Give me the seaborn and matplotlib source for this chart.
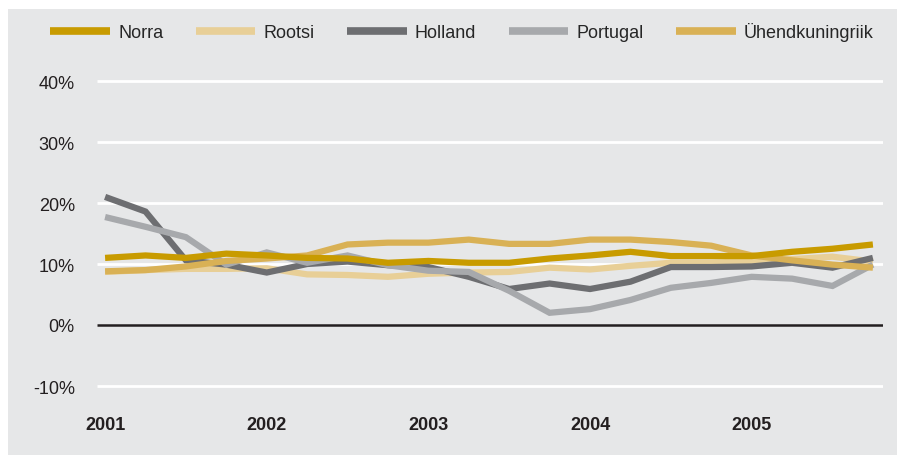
import matplotlib
matplotlib.use('Agg')
import matplotlib.pyplot as plt
from matplotlib.patches import Rectangle
from matplotlib.lines import Line2D
import seaborn as sns
import pandas as pd

quarters = list(range(20))
year_ticks = [0, 4, 8, 12, 16]
year_labels = ['2001', '2002', '2003', '2004', '2005']

norra = [11.0, 11.4, 11.0, 11.7, 11.4, 11.0, 10.9, 10.2, 10.5, 10.2,
         10.2, 10.9, 11.4, 12.0, 11.3, 11.3, 11.3, 12.0, 12.5, 13.2]
rootsi = [8.7, 9.0, 9.2, 9.2, 9.3, 8.3, 8.2, 7.9, 8.4, 8.6,
          8.7, 9.4, 9.1, 9.7, 10.2, 10.2, 10.5, 10.8, 11.2, 10.4]
holland = [21.0, 18.6, 10.6, 9.9, 8.6, 10.0, 10.4, 9.8, 9.5, 7.9,
           5.9, 6.8, 5.9, 7.1, 9.5, 9.5, 9.6, 10.2, 9.4, 11.0]
portugal = [17.7, 16.1, 14.4, 9.9, 11.9, 10.2, 11.4, 9.8, 8.9, 8.7,
            5.6, 2.0, 2.6, 4.1, 6.1, 6.9, 7.9, 7.6, 6.4, 9.9]
uk = [8.8, 9.0, 9.6, 10.5, 10.9, 11.4, 13.2, 13.5, 13.5, 14.0,
      13.3, 13.3, 14.0, 14.0, 13.6, 13.0, 11.4, 10.6, 9.9, 9.4]

names = ['Norra', 'Rootsi', 'Holland', 'Portugal', 'Ühendkuningriik']
series = [norra, rootsi, holland, portugal, uk]
colors = {'Norra': '#c89b00', 'Rootsi': '#e8cf97', 'Holland': '#6d6e71',
          'Portugal': '#a7a9ac', 'Ühendkuningriik': '#d9b155'}
draw_order = ['Rootsi', 'Holland', 'Portugal', 'Ühendkuningriik', 'Norra']

df = pd.concat([pd.DataFrame({'q': quarters, 'v': s, 'land': n})
                for n, s in zip(names, series)])

sns.set_theme(style='white')
plt.rcParams['font.family'] = ['Liberation Sans', 'DejaVu Sans']

W, H = 900, 456
fig = plt.figure(figsize=(9, 4.56), dpi=100)
fig.patch.set_facecolor('white')
fig.patches.append(Rectangle((8 / W, 0), (897 - 8) / W, (456 - 10) / H,
                             transform=fig.transFigure, facecolor='#e6e7e8',
                             edgecolor='none', zorder=-5))

# axes placement in pixels
left, right = 97, 883
top, bottom = 82 - 6.1, 387 + 6.1
ax = fig.add_axes([left / W, 1 - bottom / H, (right - left) / W, (bottom - top) / H])
ax.set_zorder(2)
ax.set_facecolor('none')

for y in [-10, 10, 20, 30, 40]:
    ax.axhline(y, color='white', lw=2, zorder=1)
ax.axhline(0, color='#231f20', lw=1.8, zorder=1)

sns.lineplot(data=df, x='q', y='v', hue='land', hue_order=draw_order,
             palette=colors, linewidth=4.5, ax=ax, legend=False, zorder=3)
for ln in ax.lines:
    ln.set_solid_capstyle('butt')
    ln.set_solid_joinstyle('miter')

ax.set_xlim(-0.2, 19.25)
ax.set_ylim(-11, 41)
ax.set_yticks([-10, 0, 10, 20, 30, 40])
ax.set_yticklabels(['-10%', '0%', '10%', '20%', '30%', '40%'], fontsize=13, color='#231f20')
ax.set_xticks(year_ticks)
ax.set_xticklabels(year_labels, fontsize=13, fontweight='bold', color='#231f20')
ax.tick_params(axis='y', length=0, pad=16)
ax.tick_params(axis='x', length=0, pad=17)
ax.set_xlabel('')
ax.set_ylabel('')
for s in ax.spines.values():
    s.set_visible(False)

handles = [Line2D([], [], color=colors[n], lw=5.5, solid_capstyle='butt') for n in names]
fig.legend(handles, names, loc='center', bbox_to_anchor=(462 / W, 1 - 33 / H),
           ncol=5, frameon=False, fontsize=13, handlelength=3.3,
           handletextpad=0.45, columnspacing=1.8)

fig.savefig('out.png', dpi=100, facecolor='white')
